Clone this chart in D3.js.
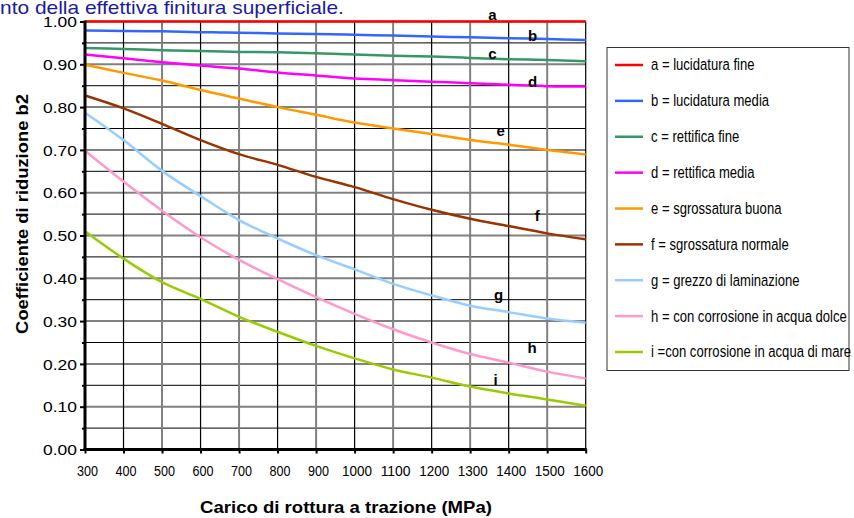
<!DOCTYPE html>
<html><head><meta charset="utf-8">
<script src="https://cdn.jsdelivr.net/npm/d3@7"></script>
<style>
body{margin:0;background:#fff;}
svg{display:block;}
text{font-family:"Liberation Sans",Arial,sans-serif;}
</style></head>
<body>
<svg id="c" width="854" height="518"></svg>
<script>
const loads = [300,400,500,600,700,800,900,1000,1100,1200,1300,1400,1500,1600];
const seriesA = [1.000,1.000,1.000,1.000,1.000,1.000,1.000,1.000,1.000,1.000,1.000,1.000,1.000,1.000];
const seriesB = [0.979,0.978,0.977,0.975,0.974,0.972,0.971,0.969,0.967,0.965,0.963,0.961,0.959,0.957];
const seriesC = [0.938,0.936,0.933,0.931,0.929,0.928,0.926,0.923,0.920,0.918,0.915,0.912,0.910,0.907];
const seriesD = [0.923,0.914,0.905,0.897,0.890,0.881,0.874,0.867,0.863,0.859,0.856,0.852,0.849,0.848];
const seriesE = [0.899,0.880,0.862,0.840,0.820,0.800,0.782,0.764,0.750,0.737,0.723,0.712,0.700,0.689];
const seriesF = [0.827,0.797,0.761,0.723,0.690,0.665,0.637,0.613,0.585,0.560,0.539,0.522,0.505,0.491];
const seriesG = [0.787,0.723,0.651,0.592,0.536,0.493,0.454,0.421,0.387,0.360,0.336,0.321,0.306,0.296];
const seriesH = [0.698,0.626,0.558,0.496,0.443,0.398,0.356,0.317,0.281,0.250,0.223,0.203,0.182,0.166];
const seriesI = [0.510,0.446,0.391,0.352,0.310,0.275,0.242,0.213,0.187,0.168,0.147,0.131,0.117,0.102];
const seriesNames = ["a = lucidatura fine","b = lucidatura media","c = rettifica fine","d = rettifica media","e = sgrossatura buona","f = sgrossatura normale","g = grezzo di laminazione","h = con corrosione in acqua dolce","i =con corrosione in acqua di mare"];
const seriesColors = ["#ff0000","#3366ff","#339966","#ff00ff","#ff9900","#993300","#99ccff","#ff99cc","#99cc00"];
const curveLetters = ["a","b","c","d","e","f","g","h","i"];
const letterX = [1358,1462,1358,1462,1379,1474,1374,1461,1366];
const letterY = [1.015,0.968,0.926,0.860,0.746,0.546,0.363,0.237,0.164];
const xTicks = [300,400,500,600,700,800,900,1000,1100,1200,1300,1400,1500,1600];
const yTicks = [0,0.1,0.2,0.3,0.4,0.5,0.6,0.7,0.8,0.9,1.0];
const yMinor = [0.05,0.15,0.25,0.35,0.45,0.55,0.65,0.75,0.85,0.95];
const titleText = "nto della effettiva finitura superficiale.";
const xTitle = "Carico di rottura a trazione (MPa)";
const yTitle = "Coefficiente di riduzione b2";

const allSeries = [seriesA,seriesB,seriesC,seriesD,seriesE,seriesF,seriesG,seriesH,seriesI];
const svg = d3.select("#c");
const L=85, R=585.7, T=21.5, B=449.5;
const x = d3.scaleLinear().domain([300,1600]).range([L,R]);
const y = d3.scaleLinear().domain([0,1]).range([B,T]);

// horizontal stretch helper: scale text node so its width matches target
function stretch(node, target, ax, ay){
  const w = node.getComputedTextLength();
  const k = target / w;
  d3.select(node).attr("transform", `translate(${ax},${ay}) scale(${k},1) translate(${-ax},${-ay})`);
  return k;
}

// title
const tt = svg.append("text").attr("x",0).attr("y",14).attr("fill","#1c1c9a")
  .style("font-size","18px").text(titleText);
stretch(tt.node(), 344, 0, 14);

// grid
const g = svg.append("g");
g.selectAll(".hm").data(yMinor).enter().append("line")
  .attr("x1",L).attr("x2",R).attr("y1",d=>y(d)).attr("y2",d=>y(d)).attr("stroke","#000").attr("stroke-width",1);
g.selectAll(".hM").data(yTicks.slice(1)).enter().append("line")
  .attr("x1",L).attr("x2",R).attr("y1",d=>y(d)).attr("y2",d=>y(d)).attr("stroke","#808080").attr("stroke-width",2);
g.selectAll(".v").data(xTicks.slice(1)).enter().append("line")
  .attr("x1",d=>x(d)).attr("x2",d=>x(d)).attr("y1",T).attr("y2",B)
  .attr("stroke",(d)=> (d%200===100)?"#808080":"#000").attr("stroke-width",(d)=> (d%200===100)?2:1.2);

// lines
const line = d3.line().x((d,i)=>x(loads[i])).y(d=>y(d)).curve(d3.curveCatmullRom.alpha(0.5));
svg.append("g").selectAll("path").data(allSeries).enter().append("path")
  .attr("d",d=>line(d)).attr("fill","none").attr("stroke",(d,i)=>seriesColors[i]).attr("stroke-width",2.5);

// axes
const yAxis = d3.axisLeft(y).tickValues(yTicks).tickSize(5).tickPadding(3).tickFormat(d3.format(".2f"));
const ya = svg.append("g").attr("transform",`translate(${L},0)`).call(yAxis);
ya.attr("font-family",null).attr("font-size",null);
ya.select(".domain").attr("stroke-width",3).attr("d",`M0,${T-1}V${B+1.5}`);
ya.selectAll(".tick line").attr("stroke-width",2);
ya.selectAll(".tick text").style("font-size","15px").attr("fill","#000").attr("x",-8).attr("dy","0.35em")
  .each(function(){ stretch(this, 34, -8, 0); });
const yMinAxis = d3.axisLeft(y).tickValues(yMinor).tickSize(3).tickFormat("");
const ym = svg.append("g").attr("transform",`translate(${L},0)`).call(yMinAxis);
ym.select(".domain").remove();
ym.selectAll(".tick line").attr("stroke-width",2);

const xAxis = d3.axisBottom(x).tickValues(xTicks).tickSize(4).tickPadding(12).tickFormat(d3.format("d"));
const xa = svg.append("g").attr("transform",`translate(0,${B})`).call(xAxis);
xa.attr("font-family",null).attr("font-size",null);
xa.select(".domain").attr("stroke-width",3).attr("d",`M${L-1.5},0H${R+1}`);
xa.selectAll(".tick line").attr("stroke-width",2);
xa.selectAll(".tick text").attr("dx",2).style("font-size","15px").attr("fill","#000")
  .each(function(){ const w=this.getComputedTextLength(); const k=(w>26? 30: 21)/w; d3.select(this).attr("transform",`scale(${k},1)`).attr("dx",2/k); });

// curve letters
svg.append("g").selectAll("text").data(curveLetters).enter().append("text")
  .attr("x",(d,i)=>x(letterX[i])).attr("y",(d,i)=>y(letterY[i])).attr("text-anchor","middle").attr("dy","0.36em")
  .style("font-weight","bold").style("font-size","15px").text(d=>d);

// axis titles
const xt = svg.append("text").attr("x",346).attr("y",513).attr("text-anchor","middle")
  .style("font-weight","bold").style("font-size","17px").text(xTitle);
stretch(xt.node(), 292, 346, 513);
const ytg = svg.append("g").attr("transform","translate(28,214) rotate(-90)");
const yt = ytg.append("text").attr("x",0).attr("y",0).attr("text-anchor","middle")
  .style("font-weight","bold").style("font-size","17px").text(yTitle);
stretch(yt.node(), 240, 0, 0);

// legend
const lg = svg.append("g");
lg.append("rect").attr("x",607).attr("y",47.5).attr("width",242).attr("height",323).attr("fill","#fff").attr("stroke","#333").attr("stroke-width",1);
const ly = d3.scaleLinear().domain([0,8]).range([65,352]);
const items = lg.selectAll(".it").data(seriesNames).enter().append("g");
items.append("line").attr("x1",615).attr("x2",643).attr("y1",(d,i)=>ly(i)).attr("y2",(d,i)=>ly(i))
  .attr("stroke",(d,i)=>seriesColors[i]).attr("stroke-width",2.5);
const ltexts = items.append("text").attr("x",651).attr("y",(d,i)=>ly(i)+5.5)
  .style("font-size","16.5px").attr("fill","#000").text(d=>d);
const refW = ltexts.nodes()[7].getComputedTextLength();
const kL = 196/refW;
ltexts.attr("transform",(d,i)=>`translate(651,0) scale(${kL},1) translate(-651,0)`);
</script>
</body></html>
